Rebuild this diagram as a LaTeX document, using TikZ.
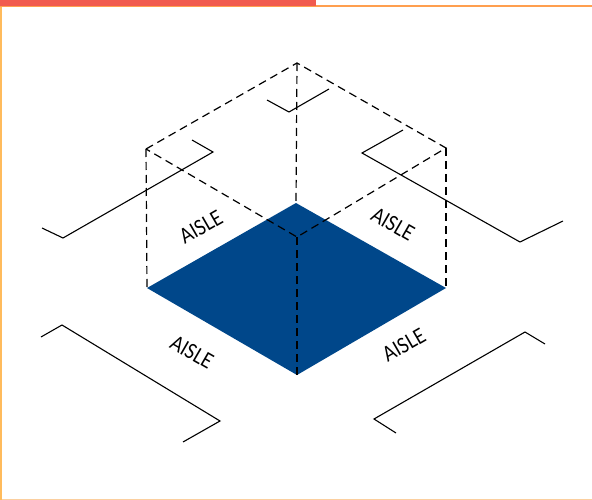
\documentclass[tikz,border=0pt]{standalone}
\usepackage{fontspec}
\setsansfont{Lato}
\usepackage{tikz}
\usetikzlibrary{positioning}
\definecolor{floorblue}{HTML}{00478A}
\definecolor{barred}{HTML}{F15B4F}
\definecolor{frameorange}{HTML}{FF9F4F}
\definecolor{frameyellow}{HTML}{FFBB5C}
\definecolor{framepale}{HTML}{FBCF9F}
\begin{document}
\begin{tikzpicture}[
  x=1pt,
  y=-1pt,
  every node/.style={font=\sffamily\fontsize{16}{16}\selectfont, inner sep=0pt},
  labelbox/.style={xscale=1.1, yscale=1.3},
  aisleline/.style={draw, line width=1.1pt, line join=miter},
  boxedge/.style={draw, line width=1.2pt, dash pattern=on 8pt off 5pt}
]
\useasboundingbox (0,0) rectangle (592,500);
% frame
\fill[white] (0,0) rectangle (592,500);
\fill[frameyellow] (0,6) rectangle (2,500);
\fill[framepale] (2,499) rectangle (592,500);
\fill[frameorange] (0,5) rectangle (592,7);
\fill[barred] (0,0) rectangle (316,6);
% corners
\coordinate (Top) at (297,63);
\coordinate (NW) at (146,149);
\coordinate (NE) at (446,148);
\coordinate (Mid) at (297,237);
\coordinate (Back) at (296,203);
\coordinate (West) at (147,288);
\coordinate (East) at (446,288);
\coordinate (Front) at (297,375);
% floor
\fill[floorblue] (Back) -- (East) -- (Front) -- (West) -- cycle;
% box
\draw[boxedge] (NW) -- (Top) -- (NE) -- (Mid) -- cycle;
\draw[boxedge] (Top) -- (Back);
\draw[boxedge] (NW) -- (West);
\draw[boxedge] (NE) -- (East);
\draw[boxedge] (Mid) -- (Front);
% aisles
\coordinate (Aa) at (42,228);
\coordinate (Ab) at (63,238);
\coordinate (Ac) at (213,152);
\coordinate (Ad) at (192,140);
\draw[aisleline] (Aa) -- (Ab) -- (Ac) -- (Ad);
\coordinate (Ba) at (267,100);
\coordinate (Bb) at (289,112);
\coordinate (Bc) at (329,89);
\draw[aisleline] (Ba) -- (Bb) -- (Bc);
\coordinate (Ca) at (403,130);
\coordinate (Cb) at (362,153);
\coordinate (Cc) at (520,242);
\coordinate (Cd) at (563,221);
\draw[aisleline] (Ca) -- (Cb) -- (Cc) -- (Cd);
\coordinate (Da) at (41,337);
\coordinate (Db) at (62,325);
\coordinate (Dc) at (220,421);
\coordinate (Dd) at (183,442);
\draw[aisleline] (Da) -- (Db) -- (Dc) -- (Dd);
\coordinate (Ea) at (396,433);
\coordinate (Eb) at (374,419);
\coordinate (Ec) at (525,332);
\coordinate (Ed) at (545,344);
\draw[aisleline] (Ea) -- (Eb) -- (Ec) -- (Ed);
% labels
\node[rotate=30, labelbox] (backleft) at (201,227) {AISLE};
\node[rotate=-30, labelbox] (backright) at (393,224) {AISLE};
\node[rotate=-30, labelbox] (frontleft) at (192,352) {AISLE};
\node[rotate=30, labelbox] (frontright) at (404,345) {AISLE};
\end{tikzpicture}
\end{document}
